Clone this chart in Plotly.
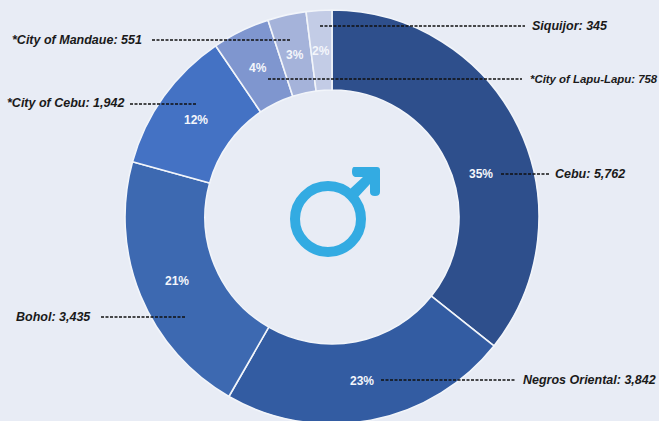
import plotly.graph_objects as go

regions = ["Cebu", "Negros Oriental", "Bohol", "*City of Cebu", "*City of Lapu-Lapu", "*City of Mandaue", "Siquijor"]
values = [5762, 3842, 3435, 1942, 758, 551, 345]
slice_shares = [35.7, 22.6, 21.0, 11.2, 4.5, 3.0, 2.0]
percents = ["35%", "23%", "21%", "12%", "4%", "3%", "2%"]
colors = ["#2E4F8C", "#335CA2", "#3D69B1", "#4472C4", "#7F96CF", "#A5B3DA", "#C3CCE6"]
BG = "#E8ECF5"
W, H = 659, 425

def px(x): return x / W
def py(y): return 1 - y / H

pct_pos = [(481, 174), (362, 381), (177, 281), (196, 120), (258, 68), (295, 55), (321, 51)]
label_pos = [(555, 174, 12.5), (523, 380, 12.5), (16, 317, 12.5), (7, 103, 12.5), (530, 79, 11.4), (12, 40, 12.5), (532, 26, 12.5)]
leaders = [(501, 549, 174), (381, 515, 380), (101, 185, 317), (130, 197, 104), (268, 522, 79), (152, 291, 40), (320, 525, 26)]

fig = go.Figure(go.Pie(
    labels=regions, values=slice_shares, sort=False, direction="clockwise", rotation=0,
    hole=127 / 207, textinfo="none", showlegend=False, hoverinfo="label",
    marker=dict(colors=colors, line=dict(color="#F2F5FA", width=1.6)),
    domain=dict(x=[px(124.5), px(539.5)], y=[1 / H, 1 - 10 / H]),
))

annotations, shapes = [], []
for p, (x, y) in zip(percents, pct_pos):
    annotations.append(dict(text=f"<b>{p}</b>", x=px(x), y=py(y), xref="paper", yref="paper", showarrow=False,
                            xanchor="center", yanchor="middle",
                            font=dict(family="Liberation Sans", size=12, color="#F4F6FB")))
for r, v, (x, y, s) in zip(regions, values, label_pos):
    annotations.append(dict(text=f"<b><i>{r}: {v:,}</i></b>", x=px(x - 2), y=py(y), xref="paper", yref="paper",
                            xanchor="left", yanchor="middle", showarrow=False,
                            font=dict(family="Liberation Sans", size=s, color="#1A1A1A")))
for x0, x1, y in leaders:
    shapes.append(dict(type="line", xref="paper", yref="paper", x0=px(x0), x1=px(x1), y0=py(y), y1=py(y),
                       line=dict(color="#111111", width=1.5, dash="3px,1.5px")))

# male symbol
shapes.append(dict(type="circle", xref="paper", yref="paper", x0=px(295), x1=px(361), y0=py(186), y1=py(252),
                   line=dict(color="#33ABE2", width=10)))
arrow = [("M", 354, 167), ("L", 377, 167), ("Q", 380, 167, 380, 170), ("L", 380, 192), ("Q", 380, 196, 375, 196),
         ("Q", 370, 196, 370, 192), ("L", 370, 184), ("L", 358, 197), ("L", 350, 189), ("L", 363, 177),
         ("L", 355, 177), ("Q", 352, 176, 352, 172), ("Q", 352, 167, 354, 167)]
parts = []
for seg in arrow:
    cmd, nums = seg[0], seg[1:]
    pts = [f"{px(nums[i]):.5f},{py(nums[i + 1]):.5f}" for i in range(0, len(nums), 2)]
    parts.append(cmd + " ".join(pts))
shapes.append(dict(type="path", xref="paper", yref="paper", path=" ".join(parts) + " Z",
                   fillcolor="#33ABE2", line=dict(width=0)))

fig.update_layout(width=W, height=H, autosize=False, margin=dict(l=0, r=0, t=0, b=0),
                  paper_bgcolor=BG, plot_bgcolor=BG, annotations=annotations, shapes=shapes)
fig.write_html("out.html", config=dict(displayModeBar=False),
               post_script=f"document.documentElement.style.overflow='hidden';document.body.style.overflow='hidden';document.body.style.margin='0';document.body.style.background='{BG}';")
